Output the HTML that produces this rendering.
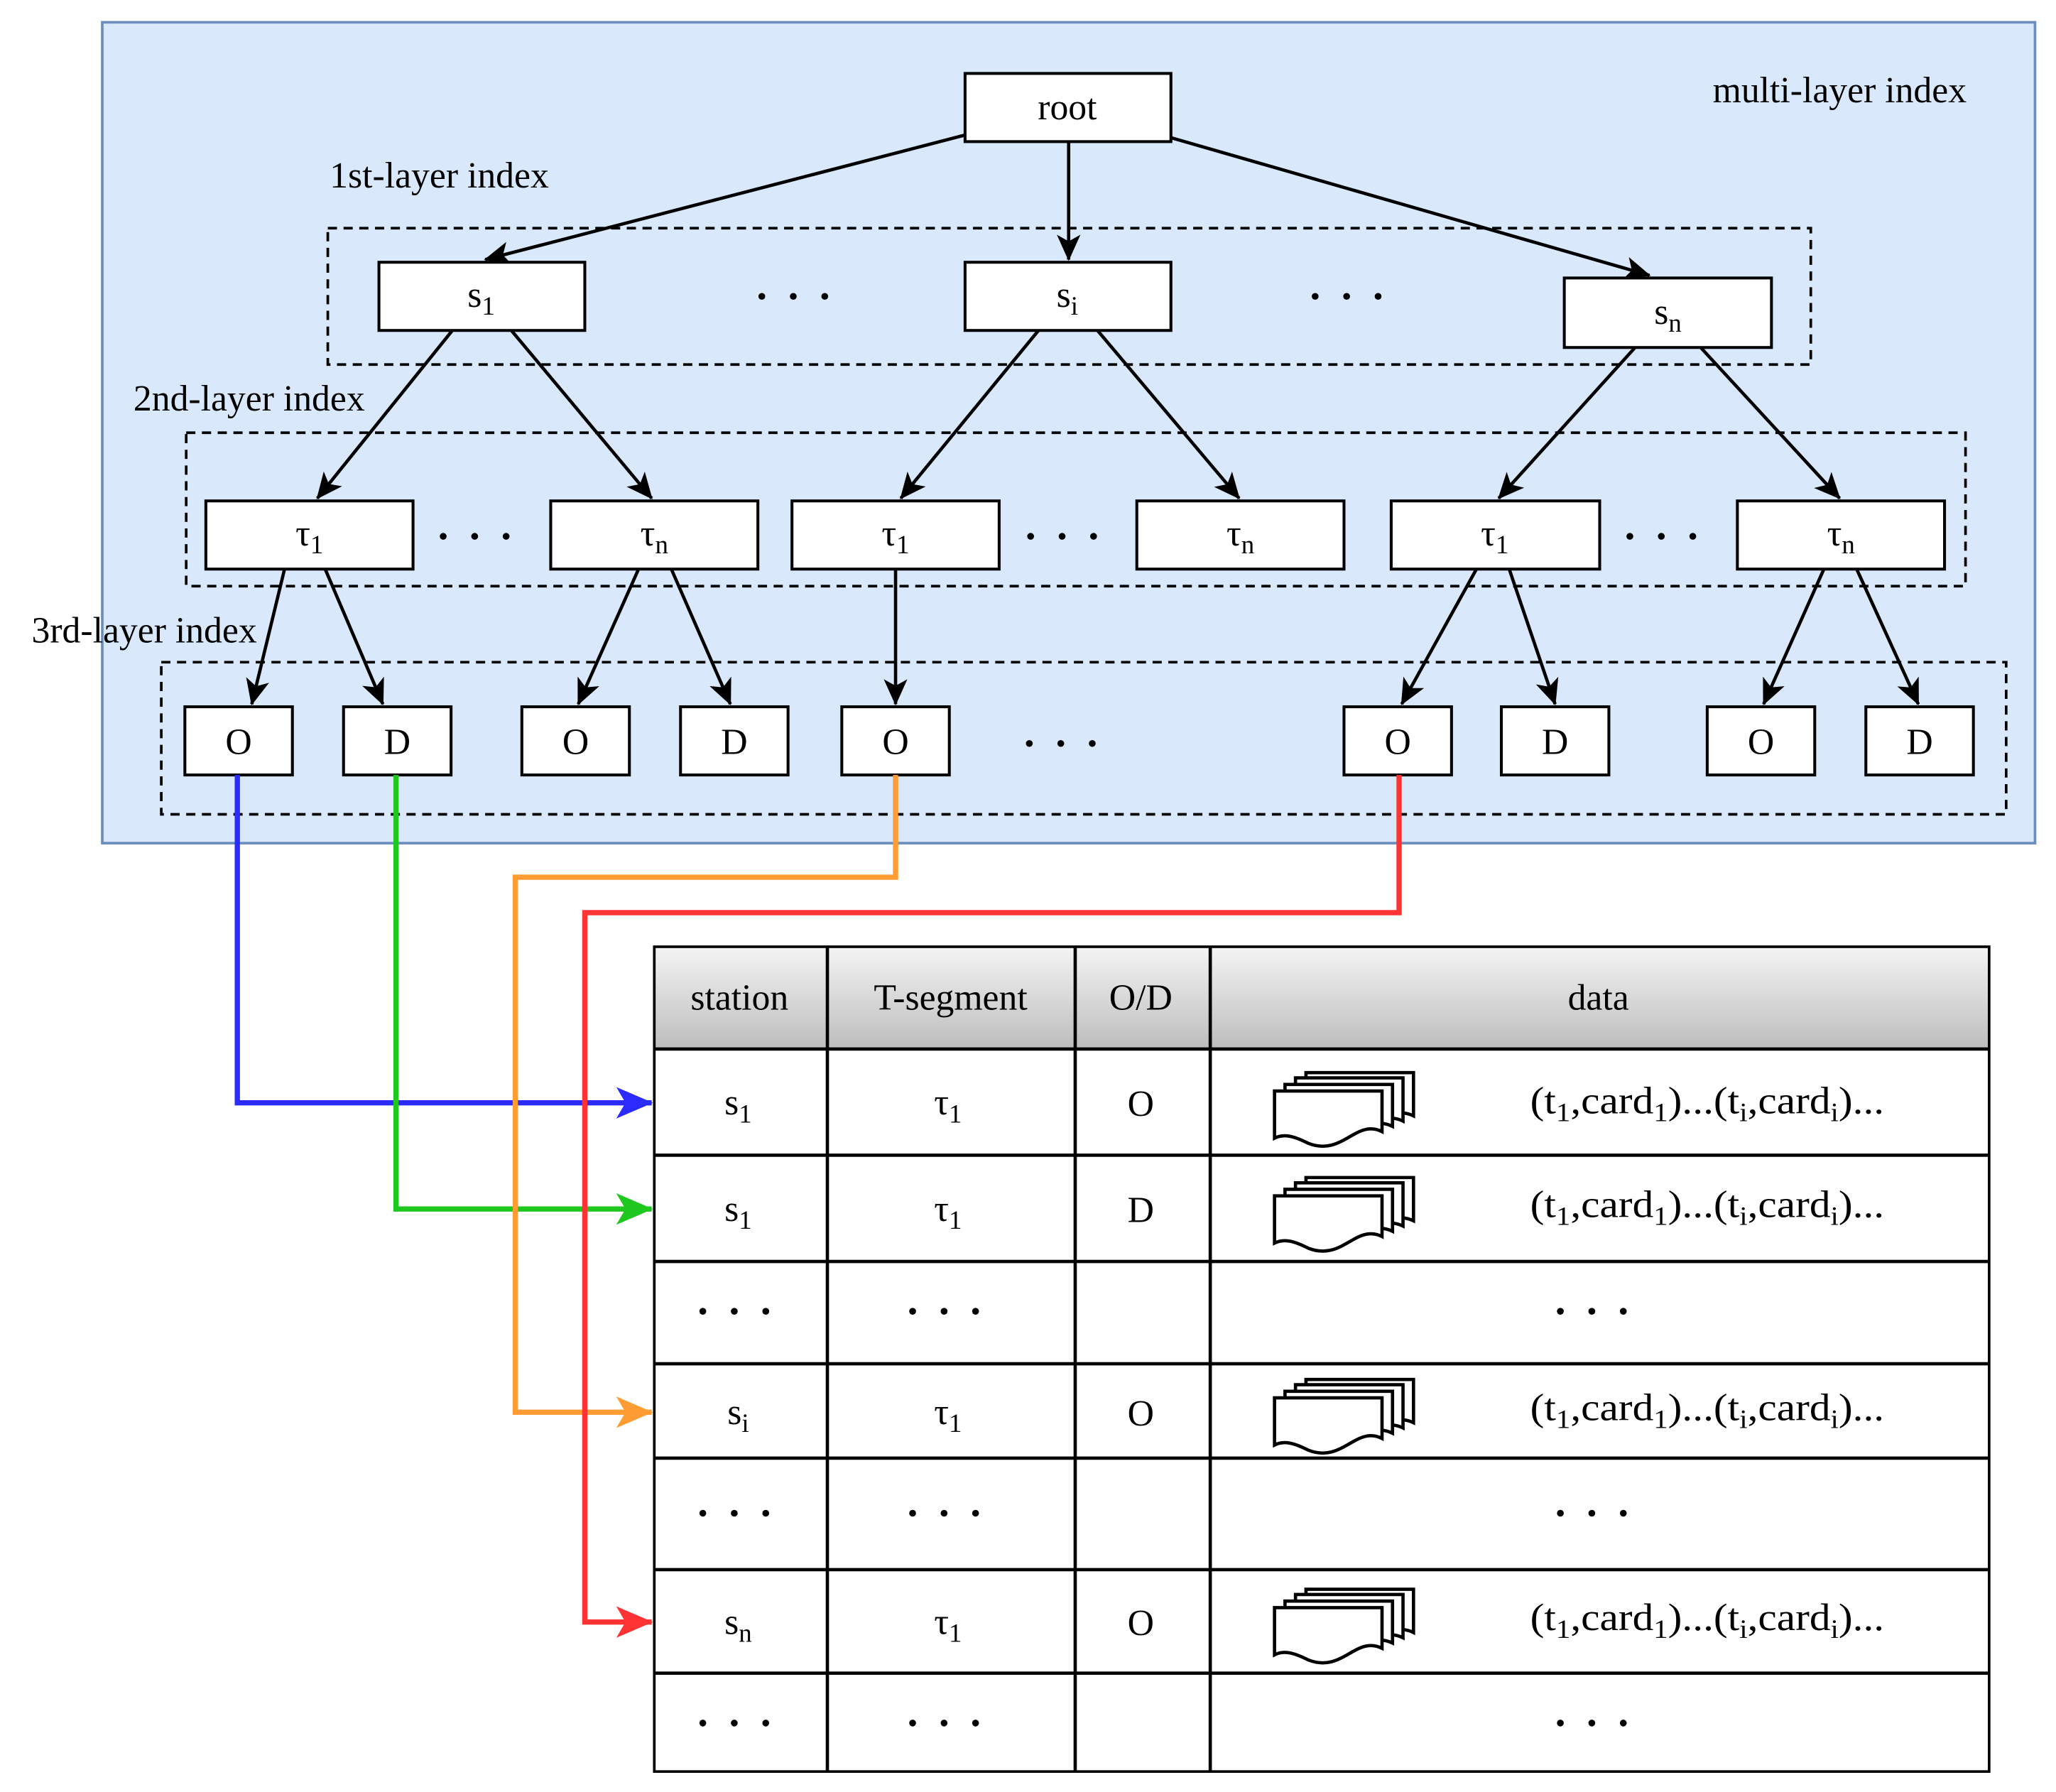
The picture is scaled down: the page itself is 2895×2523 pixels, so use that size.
<!DOCTYPE html>
<html><head><meta charset="utf-8"><style>html,body{margin:0;padding:0;background:#fff}svg{display:block}</style></head><body>
<svg width="2895" height="2523" viewBox="0 0 1568 1366.6" preserveAspectRatio="none" xmlns="http://www.w3.org/2000/svg" font-family="Liberation Serif, serif" font-size="28">
<defs>
<marker id="ak" markerWidth="20" markerHeight="18" refX="19" refY="9" orient="auto" markerUnits="userSpaceOnUse" viewBox="0 0 20 18"><path d="M0,0 L20,9 L0,18 L5,9 Z" fill="#000"/></marker>
<marker id="ab" markerWidth="28" markerHeight="24" refX="27" refY="12" orient="auto" markerUnits="userSpaceOnUse" viewBox="0 0 28 24"><path d="M0,0 L28,12 L0,24 L7,12 Z" fill="#2b2bff"/></marker>
<marker id="ag" markerWidth="28" markerHeight="24" refX="27" refY="12" orient="auto" markerUnits="userSpaceOnUse" viewBox="0 0 28 24"><path d="M0,0 L28,12 L0,24 L7,12 Z" fill="#1ec81e"/></marker>
<marker id="ao" markerWidth="28" markerHeight="24" refX="27" refY="12" orient="auto" markerUnits="userSpaceOnUse" viewBox="0 0 28 24"><path d="M0,0 L28,12 L0,24 L7,12 Z" fill="#ff9c33"/></marker>
<marker id="ar" markerWidth="28" markerHeight="24" refX="27" refY="12" orient="auto" markerUnits="userSpaceOnUse" viewBox="0 0 28 24"><path d="M0,0 L28,12 L0,24 L7,12 Z" fill="#ff3333"/></marker>
<linearGradient id="hg" x1="0" y1="0" x2="0" y2="1"><stop offset="0" stop-color="#f4f4f4"/><stop offset="1" stop-color="#bdbdbd"/></linearGradient>
<g id="dots" fill="#000"><circle cx="-24" cy="0" r="2.6"/><circle cx="0" cy="0" r="2.6"/><circle cx="24" cy="0" r="2.6"/></g>
<g id="doc">
<path d="M24,-14 H106 V19 C86,9 76,36 50,26 C40,21 33,18 24,22 Z" fill="#fff" stroke="#000" stroke-width="2.5"/>
<path d="M16,-10 H98 V23 C78,13 68,40 42,30 C32,25 25,22 16,26 Z" fill="#fff" stroke="#000" stroke-width="2.5"/>
<path d="M8,-5 H90 V27 C70,17 60,44 34,34 C24,29 17,26 8,30 Z" fill="#fff" stroke="#000" stroke-width="2.5"/>
<path d="M0,0 H82 V31 C62,21 52,50 26,40 C16,35 8,32 0,36 Z" fill="#fff" stroke="#000" stroke-width="2.5"/>
</g>
</defs>
<rect x="78" y="17" width="1474" height="626" fill="#dae8fc" stroke="#6c8ebf" stroke-width="2"/>
<text x="1403" y="78" text-anchor="middle">multi-layer index</text>
<text x="335" y="143" text-anchor="middle">1st-layer index</text>
<text x="190" y="313" text-anchor="middle">2nd-layer index</text>
<text x="110" y="490" text-anchor="middle">3rd-layer index</text>
<g fill="none" stroke="#000" stroke-width="2" stroke-dasharray="7,5">
<rect x="250" y="174" width="1131" height="104"/>
<rect x="142" y="330" width="1357" height="117"/>
<rect x="123" y="505" width="1407" height="116"/>
</g>
<g stroke="#000" stroke-width="2.5" fill="none" marker-end="url(#ak)">
<line x1="736" y1="103" x2="370" y2="198"/>
<line x1="815" y1="108" x2="815" y2="198"/>
<line x1="893" y1="105" x2="1258" y2="210"/>
<line x1="345" y1="252" x2="242" y2="380"/><line x1="390" y1="252" x2="497" y2="380"/>
<line x1="792" y1="252" x2="687" y2="380"/><line x1="837" y1="252" x2="945" y2="380"/>
<line x1="1247" y1="265" x2="1143" y2="380"/><line x1="1297" y1="265" x2="1403" y2="380"/>
<line x1="217" y1="434" x2="192" y2="537"/><line x1="248" y1="434" x2="292" y2="537"/>
<line x1="487" y1="434" x2="441" y2="537"/><line x1="512" y1="434" x2="557" y2="537"/>
<line x1="683" y1="434" x2="683" y2="537"/>
<line x1="1126" y1="434" x2="1069" y2="537"/><line x1="1151" y1="434" x2="1186" y2="537"/>
<line x1="1391" y1="434" x2="1345" y2="537"/><line x1="1416" y1="434" x2="1463" y2="537"/>
</g>
<g fill="#fff" stroke="#000" stroke-width="2.2">
<rect x="736" y="56" width="157" height="52"/>
<rect x="289" y="200" width="157" height="52"/><rect x="736" y="200" width="157" height="52"/><rect x="1193" y="212" width="158" height="53"/>
<rect x="157" y="382" width="158" height="52"/><rect x="420" y="382" width="158" height="52"/><rect x="604" y="382" width="158" height="52"/>
<rect x="867" y="382" width="158" height="52"/><rect x="1061" y="382" width="159" height="52"/><rect x="1325" y="382" width="158" height="52"/>
<rect x="141" y="539" width="82" height="52"/><rect x="262" y="539" width="82" height="52"/><rect x="398" y="539" width="82" height="52"/>
<rect x="519" y="539" width="82" height="52"/><rect x="642" y="539" width="82" height="52"/><rect x="1025" y="539" width="82" height="52"/>
<rect x="1145" y="539" width="82" height="52"/><rect x="1302" y="539" width="82" height="52"/><rect x="1423" y="539" width="82" height="52"/>
</g>
<g text-anchor="middle">
<text x="814" y="91">root</text>
<text x="367" y="234">s<tspan font-size="20" dy="6">1</tspan></text>
<text x="814" y="234">s<tspan font-size="20" dy="6">i</tspan></text>
<text x="1272" y="247">s<tspan font-size="20" dy="6">n</tspan></text>
<text x="236" y="416">τ<tspan font-size="20" dy="6">1</tspan></text>
<text x="499" y="416">τ<tspan font-size="20" dy="6">n</tspan></text>
<text x="683" y="416">τ<tspan font-size="20" dy="6">1</tspan></text>
<text x="946" y="416">τ<tspan font-size="20" dy="6">n</tspan></text>
<text x="1140" y="416">τ<tspan font-size="20" dy="6">1</tspan></text>
<text x="1404" y="416">τ<tspan font-size="20" dy="6">n</tspan></text>
<text x="182" y="575">O</text><text x="303" y="575">D</text><text x="439" y="575">O</text><text x="560" y="575">D</text>
<text x="683" y="575">O</text><text x="1066" y="575">O</text><text x="1186" y="575">D</text>
<text x="1343" y="575">O</text><text x="1464" y="575">D</text>
</g>
<use href="#dots" x="605" y="226"/><use href="#dots" x="1027" y="226"/>
<use href="#dots" x="362" y="409"/><use href="#dots" x="810" y="409"/><use href="#dots" x="1267" y="409"/>
<use href="#dots" x="809" y="567"/>
<rect x="499" y="722" width="1018" height="78" fill="url(#hg)"/>
<rect x="499" y="722" width="1018" height="629" fill="none" stroke="#000" stroke-width="2"/>
<g stroke="#000" stroke-width="2.5">
<line x1="631" y1="722" x2="631" y2="1351"/><line x1="820" y1="722" x2="820" y2="1351"/><line x1="923" y1="722" x2="923" y2="1351"/>
<line x1="499" y1="800" x2="1517" y2="800"/><line x1="499" y1="881" x2="1517" y2="881"/><line x1="499" y1="962" x2="1517" y2="962"/>
<line x1="499" y1="1040" x2="1517" y2="1040"/><line x1="499" y1="1112" x2="1517" y2="1112"/><line x1="499" y1="1197" x2="1517" y2="1197"/>
<line x1="499" y1="1276" x2="1517" y2="1276"/>
</g>
<g text-anchor="middle">
<text x="564" y="770">station</text><text x="725" y="770">T-segment</text><text x="870" y="770">O/D</text><text x="1219" y="770">data</text>
<text x="563" y="850">s<tspan font-size="20" dy="6">1</tspan></text><text x="723" y="850">τ<tspan font-size="20" dy="6">1</tspan></text><text x="870" y="851">O</text>
<text x="563" y="931">s<tspan font-size="20" dy="6">1</tspan></text><text x="723" y="931">τ<tspan font-size="20" dy="6">1</tspan></text><text x="870" y="932">D</text>
<text x="563" y="1086">s<tspan font-size="20" dy="6">i</tspan></text><text x="723" y="1086">τ<tspan font-size="20" dy="6">1</tspan></text><text x="870" y="1087">O</text>
<text x="563" y="1246">s<tspan font-size="20" dy="6">n</tspan></text><text x="723" y="1246">τ<tspan font-size="20" dy="6">1</tspan></text><text x="870" y="1247">O</text>
</g>
<use href="#dots" x="560" y="1000"/><use href="#dots" x="720" y="1000"/><use href="#dots" x="1214" y="1000"/>
<use href="#dots" x="560" y="1154"/><use href="#dots" x="720" y="1154"/><use href="#dots" x="1214" y="1154"/>
<use href="#dots" x="560" y="1314"/><use href="#dots" x="720" y="1314"/><use href="#dots" x="1214" y="1314"/>
<g font-size="29">
<text x="1167" y="849" textLength="270" lengthAdjust="spacingAndGlyphs">(t<tspan font-size="20" dy="6">1</tspan><tspan dy="-6">,card</tspan><tspan font-size="20" dy="6">1</tspan><tspan dy="-6">)...(t</tspan><tspan font-size="20" dy="6">i</tspan><tspan dy="-6">,card</tspan><tspan font-size="20" dy="6">i</tspan><tspan dy="-6">)...</tspan></text>
<text x="1167" y="928" textLength="270" lengthAdjust="spacingAndGlyphs">(t<tspan font-size="20" dy="6">1</tspan><tspan dy="-6">,card</tspan><tspan font-size="20" dy="6">1</tspan><tspan dy="-6">)...(t</tspan><tspan font-size="20" dy="6">i</tspan><tspan dy="-6">,card</tspan><tspan font-size="20" dy="6">i</tspan><tspan dy="-6">)...</tspan></text>
<text x="1167" y="1083" textLength="270" lengthAdjust="spacingAndGlyphs">(t<tspan font-size="20" dy="6">1</tspan><tspan dy="-6">,card</tspan><tspan font-size="20" dy="6">1</tspan><tspan dy="-6">)...(t</tspan><tspan font-size="20" dy="6">i</tspan><tspan dy="-6">,card</tspan><tspan font-size="20" dy="6">i</tspan><tspan dy="-6">)...</tspan></text>
<text x="1167" y="1243" textLength="270" lengthAdjust="spacingAndGlyphs">(t<tspan font-size="20" dy="6">1</tspan><tspan dy="-6">,card</tspan><tspan font-size="20" dy="6">1</tspan><tspan dy="-6">)...(t</tspan><tspan font-size="20" dy="6">i</tspan><tspan dy="-6">,card</tspan><tspan font-size="20" dy="6">i</tspan><tspan dy="-6">)...</tspan></text>
</g>
<use href="#doc" x="972" y="832"/><use href="#doc" x="972" y="912"/><use href="#doc" x="972" y="1066"/><use href="#doc" x="972" y="1226"/>
<g fill="none" stroke-width="4">
<polyline points="181,591 181,841 497,841" stroke="#2b2bff" marker-end="url(#ab)"/>
<polyline points="302,591 302,922 497,922" stroke="#1ec81e" marker-end="url(#ag)"/>
<polyline points="683,591 683,669 393,669 393,1077 497,1077" stroke="#ff9c33" marker-end="url(#ao)"/>
<polyline points="1067,591 1067,696 446,696 446,1237 497,1237" stroke="#ff3333" marker-end="url(#ar)"/>
</g>
</svg>
</body></html>
